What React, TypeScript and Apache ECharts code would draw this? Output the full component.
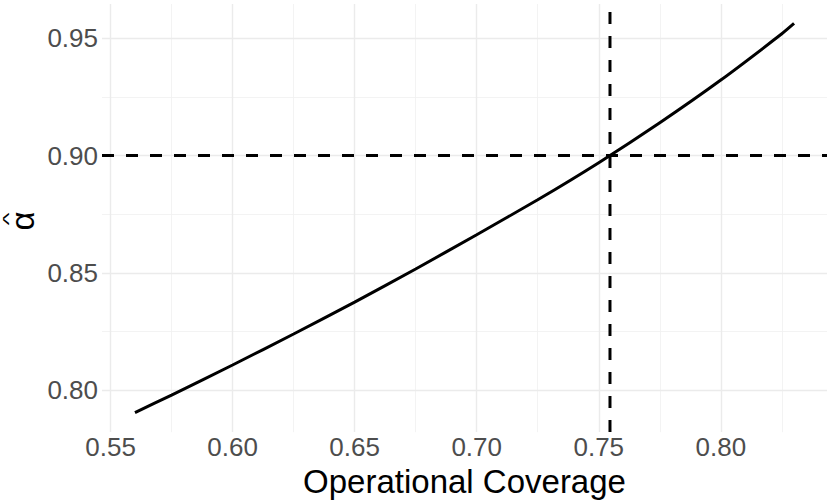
import React, { useEffect, useRef } from "react";
import * as echarts from "echarts";

// Curve: operational coverage (x) vs estimated alpha (y)
const coverage = [0.56, 0.575, 0.60, 0.625, 0.65, 0.675, 0.70, 0.725, 0.75, 0.775, 0.80, 0.825, 0.83];
const alphaHat = [0.7905, 0.7980, 0.8108, 0.8240, 0.8376, 0.8517, 0.8663, 0.8812, 0.8970, 0.9140, 0.9322, 0.9519, 0.9563];

// Reference lines
const refAlpha = 0.90;
const refCoverage = 0.7546;

// Breaks
const xBreaks = [0.55, 0.60, 0.65, 0.70, 0.75, 0.80];
const xMinorBreaks = [0.575, 0.625, 0.675, 0.725, 0.775, 0.825];
const yBreaks = [0.80, 0.85, 0.90, 0.95];
const yMinorBreaks = [0.825, 0.875, 0.925];

const FONT = "Liberation Sans, Arial, Helvetica, sans-serif";

function expand(vals: number[]): [number, number] {
  const lo = Math.min(...vals);
  const hi = Math.max(...vals);
  const pad = (hi - lo) * 0.05;
  return [lo - pad, hi + pad];
}

export default function App() {
  const ref = useRef<HTMLDivElement>(null);
  useEffect(() => {
    if (!ref.current) return;
    const chart = echarts.init(ref.current, undefined, { renderer: "svg" });
    const xLim = expand(coverage);
    const yLim = expand(alphaHat);
    const majorGrid = { show: true, lineStyle: { color: "#ebebeb", width: 1.4 } };
    const minorGrid = { show: true, lineStyle: { color: "#f0f0f0", width: 0.8 } };
    const tickLabel = {
      color: "#4d4d4d",
      fontSize: 26,
      fontFamily: FONT,
      formatter: (v: number) => v.toFixed(2),
    };
    chart.setOption({
      animation: false,
      backgroundColor: "#ffffff",
      grid: { left: 102, right: 3, top: 4, bottom: 65, containLabel: false },
      xAxis: [
        {
          type: "value",
          min: xLim[0],
          max: xLim[1],
          axisLine: { show: false },
          axisTick: { show: false, customValues: xBreaks },
          axisLabel: { ...tickLabel, margin: 2, customValues: xBreaks },
          splitLine: majorGrid,
          name: "Operational Coverage",
          nameLocation: "middle",
          nameGap: 29,
          nameTextStyle: { color: "#000000", fontSize: 33, fontFamily: FONT },
          z: 1,
        },
        {
          type: "value",
          min: xLim[0],
          max: xLim[1],
          position: "bottom",
          axisLine: { show: false },
          axisTick: { show: false, customValues: xMinorBreaks },
          axisLabel: { show: false, customValues: xMinorBreaks },
          splitLine: minorGrid,
          z: 0,
        },
      ],
      yAxis: [
        {
          type: "value",
          min: yLim[0],
          max: yLim[1],
          axisLine: { show: false },
          axisTick: { show: false, customValues: yBreaks },
          axisLabel: { ...tickLabel, margin: 4, customValues: yBreaks },
          splitLine: majorGrid,
          z: 1,
        },
        {
          type: "value",
          min: yLim[0],
          max: yLim[1],
          position: "left",
          axisLine: { show: false },
          axisTick: { show: false, customValues: yMinorBreaks },
          axisLabel: { show: false, customValues: yMinorBreaks },
          splitLine: minorGrid,
          z: 0,
        },
      ],
      series: [
        {
          type: "line",
          xAxisIndex: 0,
          yAxisIndex: 0,
          data: coverage.map((x, i) => [x, alphaHat[i]]),
          smooth: 0.2,
          showSymbol: false,
          lineStyle: { color: "#000000", width: 3 },
          z: 5,
        },
        {
          type: "line",
          xAxisIndex: 0,
          yAxisIndex: 0,
          data: [[xLim[0], refAlpha], [xLim[1], refAlpha]],
          showSymbol: false,
          lineStyle: { color: "#000000", width: 3, type: [12, 12] },
          z: 4,
        },
        {
          type: "line",
          xAxisIndex: 0,
          yAxisIndex: 0,
          data: [[refCoverage, yLim[0]], [refCoverage, yLim[1]]],
          showSymbol: false,
          lineStyle: { color: "#000000", width: 3, type: [12, 12] },
          z: 4,
        },
      ],
      graphic: [
        {
          type: "group",
          x: 22,
          y: 221,
          rotation: Math.PI / 2,
          children: [
            {
              type: "text",
              x: 0,
              y: 0,
              style: {
                text: "α",
                fontSize: 33,
                fontFamily: FONT,
                fill: "#000000",
                align: "center",
                verticalAlign: "middle",
              },
            },
            {
              type: "text",
              x: 2,
              y: -13,
              scaleX: 1.6,
              style: {
                text: "^",
                fontSize: 17,
                fontFamily: FONT,
                fill: "#000000",
                align: "center",
                verticalAlign: "middle",
              },
            },
          ],
        },
      ],
    });
    return () => chart.dispose();
  }, []);
  return <div ref={ref} style={{ width: 830, height: 503, position: "absolute", left: 0, top: 0 }} />;
}
